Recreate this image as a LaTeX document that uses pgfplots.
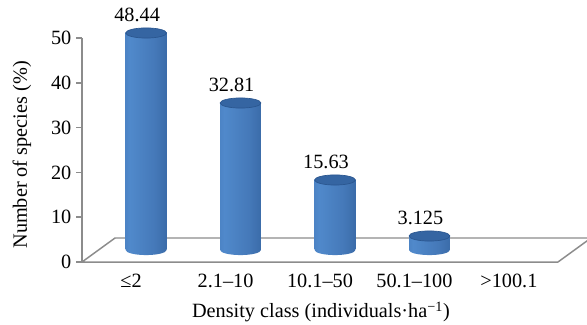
\documentclass[border=0pt]{standalone}
\usepackage{pgfplots}
\pgfplotsset{compat=1.18}
\usepackage{pgfplotstable}
\usepackage{fontspec}
\setmainfont{Liberation Serif}

\definecolor{framegray}{HTML}{8C8C8C}
\definecolor{cylEdge}{HTML}{3A6AA9}
\definecolor{cylLight}{HTML}{5089CB}
\definecolor{cylMid}{HTML}{4579B9}
\definecolor{cylDark}{HTML}{2A568F}
\definecolor{cylTop}{HTML}{3565A2}

% left-to-right shading of the cylinder walls
\pgfdeclarehorizontalshading{cylbody}{100bp}{%
  color(0bp)=(cylEdge); color(30bp)=(cylLight); color(60bp)=(cylMid); color(100bp)=(cylDark)}

% elliptical caps of the cylinders
\pgfdeclareplotmark{cylbase}{%
  \pgfpathellipse{\pgfpointorigin}{\pgfqpoint{15.3pt}{0pt}}{\pgfqpoint{0pt}{3.8pt}}%
  \pgfshadepath{cylbody}{0}%
  \pgfusepath{discard}}
\pgfdeclareplotmark{cyltop}{%
  \pgfpathellipse{\pgfpointorigin}{\pgfqpoint{15.3pt}{0pt}}{\pgfqpoint{0pt}{3.8pt}}%
  \pgfusepathqfillstroke}

\pgfplotstableread{
x  v
0  48.44
1  32.81
2  15.63
3  3.125
}\density

\begin{document}
\begin{tikzpicture}[font=\fontsize{15.2}{18}\selectfont]

% front plane: value axis and floor
\begin{axis}[
  at={(61.5pt,47.25pt)}, anchor=south west,
  scale only axis, width=357pt, height=168pt,
  xmin=-0.52, xmax=4.52, ymin=0, ymax=50,
  clip=false,
  axis y line*=left, axis x line*=bottom,
  axis line style={draw=framegray, line width=1.1pt, -},
  ytick={0,10,...,50},
  xtick={0,1,2,3,4},
  xticklabels={≤2, 2.1–10, 10.1–50, 50.1–100, >100.1},
  tick align=outside,
  major tick length=4.5pt,
  ytick style={draw=framegray, line width=1.1pt},
  xtick style={draw=none},
  yticklabel style={/pgf/number format/assume math mode=true, font=\fontsize{15.2}{18}\selectfont},
  xticklabel style={anchor=base, yshift=-15pt, font=\fontsize{15.2}{18}\selectfont},
  every axis y label/.style={at={(axis description cs:-0.126,0.478)}, rotate=90, anchor=center},
  every axis x label/.style={at={(axis description cs:0.502,-0.25)}, anchor=base},
  ylabel={Number of species (\%)},
  xlabel={Density class (individuals·ha\textsuperscript{−1})},
]
\draw[draw=framegray, fill=white, line width=1.1pt]
  (axis cs:-0.52,0) -- (axis cs:4.52,0) -- (axis cs:4.87,5.36)
  -- (axis cs:-0.17,5.36) -- cycle;
\end{axis}

% cylinders, standing at mid depth of the floor
\begin{axis}[
  at={(72.75pt,56.25pt)}, anchor=south west,
  scale only axis, width=357pt, height=168pt,
  xmin=-0.52, xmax=4.52, ymin=0, ymax=50,
  hide axis, clip=false,
]
\addplot[only marks, mark=cylbase] table[x=x, y expr=0] {\density};
% one path per cylinder so that each wall gets its own shading
\pgfplotsinvokeforeach{0,1,2,3}{
  \addplot[ybar, bar shift=0pt, bar width=30.6pt, draw=none, shade, shading=cylbody,
    restrict expr to domain={\coordindex}{#1:#1}] table[x=x, y=v] {\density};
}
% top caps with the value written a little to the left above each one
\addplot[only marks, mark=cyltop,
  mark options={fill=cylTop, draw=cylDark, line width=0.5pt},
  nodes near coords={\hspace*{-13.5pt}\pgfmathprintnumber{\pgfplotspointmeta}},
  /pgf/number format/.cd, precision=3, assume math mode=true,
  /pgfplots/.cd,
  nodes near coords style={anchor=south, inner sep=0pt, yshift=7.9pt,
    font=\fontsize{15.2}{18}\selectfont, text=black},
] table[x=x, y=v] {\density};
\end{axis}

\pgfresetboundingbox
\path[use as bounding box] (0pt,0pt) rectangle (440.25pt,243.75pt);
\end{tikzpicture}
\end{document}
